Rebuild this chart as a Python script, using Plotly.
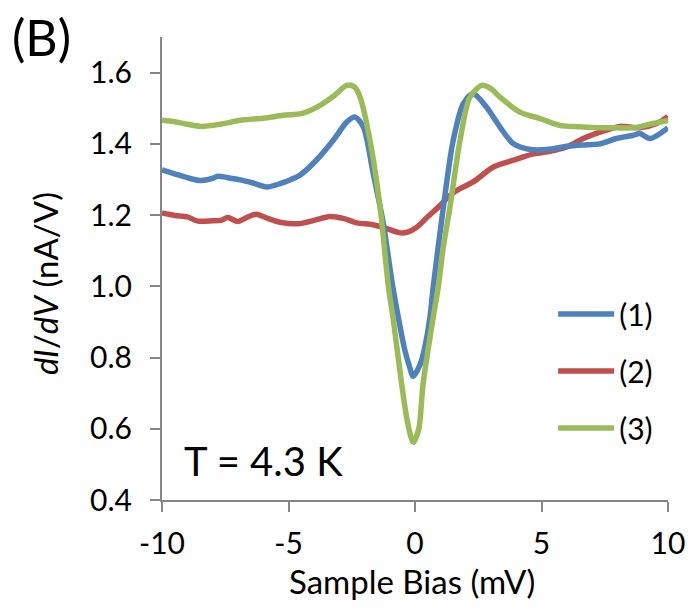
import plotly.graph_objects as go

# Series (1) - blue
x1 = [-10, -9.5, -9, -8.5, -8, -7.8, -7.4, -6.9, -6.4, -5.86, -5.34, -4.9, -4.55, -3.9, -3.23,
      -2.7, -2.37, -2.04, -1.65, -1.25, -0.9, -0.66, -0.4, -0.22, -0.07, 0.2, 0.36, 0.59, 0.72, 1.12,
      1.51, 1.91, 2.3, 2.83, 3.36, 3.89, 4.55, 5.2, 6.0, 6.6, 7.3, 7.97, 8.63, 8.89, 9.29, 10]
y1 = [1.327, 1.316, 1.305, 1.297, 1.303, 1.309, 1.305, 1.299, 1.29, 1.279, 1.288, 1.3, 1.312, 1.354, 1.41,
      1.461, 1.475, 1.447, 1.316, 1.176, 1.008, 0.913, 0.82, 0.775, 0.747, 0.78, 0.82, 0.913, 0.998, 1.222,
      1.41, 1.513, 1.541, 1.503, 1.447, 1.4, 1.384, 1.384, 1.393, 1.397, 1.4, 1.415, 1.424, 1.429, 1.415, 1.445]

# Series (2) - red
x2 = [-10, -9.5, -9, -8.58, -8, -7.67, -7.4, -7.0, -6.6, -6.27, -5.8, -5.34, -4.55, -4.0, -3.36,
      -2.8, -2.3, -1.65, -1.12, -0.59, -0.3, 0.07, 0.5, 0.99, 1.3, 1.65, 2.3, 3.1, 3.89, 4.68,
      5.34, 6.0, 6.65, 7.31, 8.1, 8.5, 8.89, 9.55, 10]
y2 = [1.206, 1.199, 1.195, 1.183, 1.184, 1.185, 1.193, 1.182, 1.195, 1.202, 1.19, 1.18, 1.176, 1.185, 1.196,
      1.19, 1.178, 1.173, 1.162, 1.15, 1.152, 1.166, 1.195, 1.227, 1.25, 1.269, 1.293, 1.335, 1.354, 1.372,
      1.379, 1.391, 1.415, 1.433, 1.449, 1.447, 1.445, 1.457, 1.477]

# Series (3) - green
x3 = [-10, -9.5, -9, -8.45, -7.7, -6.9, -6, -5.2, -4.5, -4.1, -3.75, -3.2, -2.7, -2.4, -2.17,
      -1.78, -1.38, -1.05, -0.87, -0.53, -0.3, -0.07, 0.15, 0.32, 0.72, 0.92, 1.1, 1.38, 1.78,
      2.17, 2.64, 3.0, 3.36, 4.15, 4.94, 5.73, 6.5, 7.3, 8.0, 8.6, 9.0, 9.4, 10]
y3 = [1.466, 1.462, 1.455, 1.449, 1.455, 1.466, 1.472, 1.48, 1.485, 1.495, 1.508, 1.535, 1.564, 1.56, 1.531,
      1.41, 1.222, 0.998, 0.913, 0.727, 0.62, 0.562, 0.6, 0.727, 0.913, 0.998, 1.101, 1.222, 1.41,
      1.531, 1.564, 1.555, 1.531, 1.489, 1.471, 1.452, 1.448, 1.445, 1.445, 1.445, 1.45, 1.457, 1.466]

names = ["(1)", "(2)", "(3)"]
colors = ["#4F81BD", "#C0504D", "#9BBB59"]

x_ticks = [-10, -5, 0, 5, 10]
y_ticks = [0.4, 0.6, 0.8, 1.0, 1.2, 1.4, 1.6]
y_tick_text = ["0.4", "0.6", "0.8", "1.0", "1.2", "1.4", "1.6"]

FONT = "Lato"
fig = go.Figure()
series = [(x1, y1), (x2, y2), (x3, y3)]
# draw order: red, blue, green (green on top)
for idx in [1, 0, 2]:
    xs, ys = series[idx]
    fig.add_trace(go.Scatter(
        x=xs, y=ys, mode="lines", name=names[idx],
        line=dict(color=colors[idx], width=5.5, shape="spline", smoothing=0.8),
        legendrank=idx + 1, legendgroup=names[idx],
    ))

axis_color = "#868686"
fig.update_layout(
    width=691, height=608,
    margin=dict(l=162, r=23, t=37, b=108, pad=0),
    paper_bgcolor="white", plot_bgcolor="white",
    font=dict(family=FONT, size=30, color="black"),
    showlegend=True,
    legend=dict(x=0.773, y=0.458, xanchor="left", yanchor="top", itemwidth=56,
                font=dict(family=FONT, size=30, color="black"),
                bgcolor="rgba(0,0,0,0)", tracegroupgap=15, traceorder="grouped"),
    xaxis=dict(range=[-10, 10], tickvals=x_ticks, ticktext=[str(v) for v in x_ticks],
               automargin=False,
               showgrid=False, zeroline=False, showline=True, linecolor=axis_color, linewidth=2,
               ticks="outside", ticklen=10, tickwidth=2, tickcolor=axis_color,
               ticklabelstandoff=6,
               tickfont=dict(family=FONT, size=30, color="black")),
    yaxis=dict(range=[0.4, 1.7], tickvals=y_ticks, ticktext=y_tick_text,
               automargin=False,
               showgrid=False, zeroline=False, showline=True, linecolor=axis_color, linewidth=2,
               ticks="outside", ticklen=10, tickwidth=2, tickcolor=axis_color,
               ticklabelstandoff=12,
               tickfont=dict(family=FONT, size=30, color="black")),
    annotations=[
        dict(text="Sample Bias (mV)", xref="paper", yref="paper",
             x=0.495, y=-0.175, xanchor="center", yanchor="middle", showarrow=False,
             font=dict(family=FONT, size=33, color="black")),
        dict(text="<i>dI</i>/<i>dV</i> (nA/V)", textangle=-90, xref="paper", yref="paper",
             x=-0.231, y=0.4665, xanchor="center", yanchor="middle", showarrow=False,
             font=dict(family=FONT, size=33, color="black")),
        dict(text="T = 4.3 K", xref="paper", yref="paper", x=0.0395, y=0.085,
             xanchor="left", yanchor="middle", showarrow=False,
             font=dict(family=FONT, size=40, color="black")),
        dict(text="(B)", xref="paper", yref="paper", x=(10 - 162) / 506, y=(500 - 37) / 463,
             xanchor="left", yanchor="middle", showarrow=False,
             font=dict(family=FONT, size=50, color="black")),
    ],
)

fig.write_html("out.html")
